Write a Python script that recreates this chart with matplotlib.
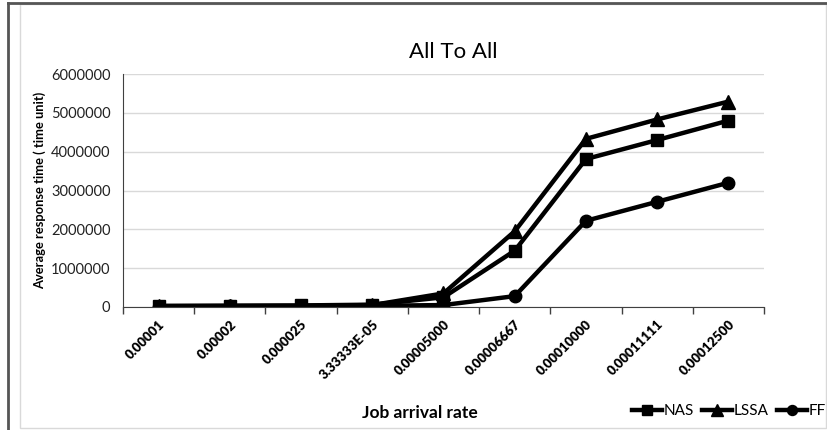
import matplotlib
matplotlib.use("Agg")
import matplotlib.pyplot as plt
from matplotlib.lines import Line2D
from matplotlib.patches import Rectangle

plt.rcParams['font.family'] = ['Lato', 'DejaVu Sans']

categories = ["0.00001", "0.00002", "0.000025", "3.33333E-05", "0.00005000",
              "0.00006667", "0.00010000", "0.00011111", "0.00012500"]
nas = [30000, 35000, 40000, 60000, 250000, 1450000, 3810000, 4300000, 4800000]
lssa = [20000, 25000, 30000, 50000, 350000, 1950000, 4330000, 4830000, 5290000]
ff = [10000, 15000, 20000, 30000, 50000, 280000, 2220000, 2710000, 3200000]
yticks = [0, 1000000, 2000000, 3000000, 4000000, 5000000, 6000000]

W, H = 828, 430
fig = plt.figure(figsize=(W / 100, H / 100), dpi=100)

# frame around the chart area
fig.add_artist(Rectangle((20 / W, 2 / H), 806 / W, 424 / H, transform=fig.transFigure,
                         fill=False, edgecolor="#d9d9d9", linewidth=1.0))
fig.add_artist(Line2D([8 / W, 8 / W], [0, 1 - 3 / H], transform=fig.transFigure,
                      color="#555555", linewidth=2.0))
fig.add_artist(Line2D([8 / W, 1], [1 - 3 / H, 1 - 3 / H], transform=fig.transFigure,
                      color="#555555", linewidth=2.0))

ax = fig.add_axes([123 / W, 1 - 307 / H, 641 / W, 233 / H])
x = list(range(len(categories)))
style = dict(color="black", linewidth=3.2)
ax.plot(x, nas, marker="s", markersize=9, label="NAS", **style)
ax.plot(x, lssa, marker="^", markersize=10, label="LSSA", **style)
ax.plot(x, ff, marker="o", markersize=9, label="FF", **style)

ax.set_xlim(-0.5, len(categories) - 0.5)
ax.set_ylim(0, 6000000)
ax.set_yticks(yticks)
ax.set_yticklabels([str(v) for v in yticks], fontsize=10.5, color="#222222")
ax.yaxis.grid(True, color="#d9d9d9", linewidth=1.0)
ax.set_axisbelow(True)
ax.tick_params(axis="y", length=0, pad=9)

ax.set_xticks(x)
ax.set_xticklabels(categories, rotation=45, ha="right", va="top",
                   rotation_mode="anchor", fontsize=9.5, fontweight="heavy")
ax.tick_params(axis="x", length=0, pad=8)
ax.set_xticks([i + 0.5 for i in x[:-1]] + [-0.5, len(categories) - 0.5], minor=True)
ax.tick_params(axis="x", which="minor", length=5, color="#404040", width=1)

for side in ("top", "right"):
    ax.spines[side].set_visible(False)
ax.spines["left"].set_color("#404040")
ax.spines["bottom"].set_color("#404040")

fig.text(453 / W, 1 - 52 / H, "All To All", ha="center", va="center", fontsize=16)
fig.text(40 / W, 1 - 190 / H, "Average response time ( time unit)", rotation=90,
         ha="center", va="center", fontsize=9.3, fontweight="bold")
fig.text(420 / W, 1 - 413 / H, "Job arrival rate", ha="center", va="center",
         fontsize=12.5, fontweight="bold")

handles, labels = ax.get_legend_handles_labels()
fig.legend(handles, labels, loc="center right", bbox_to_anchor=(826 / W, 1 - 411 / H),
           ncol=3, frameon=False, fontsize=11, handlelength=2.0, handletextpad=0.1,
           columnspacing=0.5, borderpad=0, borderaxespad=0, markerscale=0.8)

fig.savefig("out.png", dpi=100, facecolor="white")
